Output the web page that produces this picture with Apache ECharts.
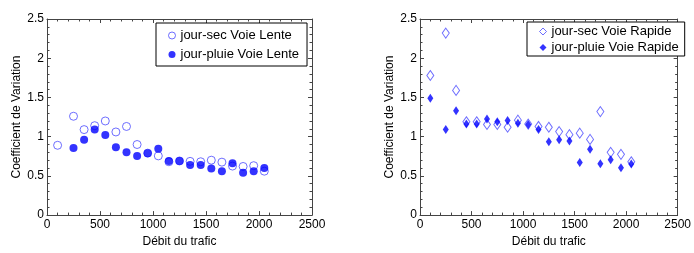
<!DOCTYPE html>
<html>
<head>
<meta charset="utf-8">
<script src="https://cdn.jsdelivr.net/npm/echarts@6/dist/echarts.min.js"></script>
<style>
  html, body { margin: 0; padding: 0; background: #fff; }
  #main { width: 694px; height: 253px; }
</style>
</head>
<body>
<div id="main"></div>
<script>
// débit du trafic (centres des classes)
var debitSec = [100, 250, 350, 450, 550, 650, 750, 850, 950, 1050, 1150, 1250, 1350, 1450, 1550, 1650, 1750, 1850, 1950, 2050];
var debitPluie = [250, 350, 450, 550, 650, 750, 850, 950, 1050, 1150, 1250, 1350, 1450, 1550, 1650, 1750, 1850, 1950, 2050];

// Voie Lente
var secLente = [0.89, 1.26, 1.09, 1.14, 1.20, 1.06, 1.13, 0.90, 0.79, 0.755, 0.68, 0.69, 0.685, 0.68, 0.70, 0.675, 0.625, 0.62, 0.63, 0.56];
var pluieLente = [0.855, 0.96, 1.09, 1.02, 0.865, 0.80, 0.755, 0.79, 0.845, 0.69, 0.69, 0.64, 0.64, 0.595, 0.56, 0.66, 0.54, 0.56, 0.60];

// Voie Rapide
var debitRapide = [100, 250, 350, 450, 550, 650, 750, 850, 950, 1050, 1150, 1250, 1350, 1450, 1550, 1650, 1750, 1850, 1950, 2050];
var secRapide = [1.78, 2.32, 1.59, 1.19, 1.19, 1.155, 1.155, 1.12, 1.21, 1.16, 1.13, 1.12, 1.065, 1.025, 1.045, 0.965, 1.32, 0.80, 0.775, 0.68];
var pluieRapide = [1.49, 1.09, 1.33, 1.16, 1.16, 1.225, 1.19, 1.205, 1.17, 1.155, 1.09, 0.935, 0.96, 0.945, 0.67, 0.84, 0.655, 0.705, 0.605, 0.65];

var FONT = 'Liberation Sans, Arial, sans-serif';
var axisCol = '#444';

function pairs(xs, ys) {
  return ys.map(function (v, i) { return [xs[i], v]; });
}

function xAx(grid, pos, labels) {
  return {
    type: 'value', gridIndex: grid, position: pos, min: 0, max: 2500, interval: 500,
    name: labels ? 'Débit du trafic' : '', nameLocation: 'middle', nameGap: 18,
    nameTextStyle: { fontFamily: FONT, fontSize: 12, color: '#000' },
    axisLine: { show: true, onZero: false, lineStyle: { color: axisCol, width: 1 } },
    axisTick: { show: true, inside: true, length: 4, lineStyle: { color: axisCol } },
    minorTick: { show: true, splitNumber: 5, length: 2.5, lineStyle: { color: axisCol } },
    axisLabel: { show: labels, fontFamily: FONT, fontSize: 12, color: '#000', margin: 4,
      formatter: function (v) { return String(v); } },
    splitLine: { show: false }
  };
}

function yAx(grid, pos, labels) {
  return {
    type: 'value', gridIndex: grid, position: pos, min: 0, max: 2.5, interval: 0.5,
    name: labels ? 'Coefficient de Variation' : '', nameLocation: 'middle', nameGap: 24,
    nameTextStyle: { fontFamily: FONT, fontSize: 12, color: '#000' },
    axisLine: { show: true, onZero: false, lineStyle: { color: axisCol, width: 1 } },
    axisTick: { show: true, inside: true, length: 4, lineStyle: { color: axisCol } },
    minorTick: { show: true, splitNumber: 5, length: 2.5, lineStyle: { color: axisCol } },
    axisLabel: { show: labels, fontFamily: FONT, fontSize: 12, color: '#000', margin: 3,
      formatter: function (v) { return String(v); } },
    splitLine: { show: false }
  };
}

var legendBase = {
  orient: 'vertical',
  backgroundColor: '#fff',
  borderColor: '#000',
  borderWidth: 1,
  borderRadius: 0,
  itemWidth: 7,
  itemHeight: 7,
  itemStyle: { borderWidth: 1 },
  textStyle: { fontFamily: FONT, fontSize: 13, color: '#000' }
};

var chart = echarts.init(document.getElementById('main'));
chart.setOption({
  animation: false,
  grid: [
    { left: 47, top: 19, width: 265, height: 206 },
    { left: 420, top: 19, width: 264, height: 206 }
  ],
  xAxis: [xAx(0, 'bottom', true), xAx(0, 'top', false), xAx(1, 'bottom', true), xAx(1, 'top', false)],
  yAxis: [yAx(0, 'left', true), yAx(0, 'right', false), yAx(1, 'left', true), yAx(1, 'right', false)],
  legend: [
    Object.assign({}, legendBase, {
      left: 156, top: 23, padding: [6, 8, 5, 12], itemGap: 6,
      data: ['jour-sec Voie Lente', 'jour-pluie Voie Lente']
    }),
    Object.assign({}, legendBase, {
      left: 527, top: 22, padding: [3, 6, 2, 12], itemGap: 3,
      data: ['jour-sec Voie Rapide', 'jour-pluie Voie Rapide']
    })
  ],
  series: [
    {
      name: 'jour-sec Voie Lente', type: 'scatter', xAxisIndex: 0, yAxisIndex: 0,
      symbol: 'circle', symbolSize: 8,
      itemStyle: { color: '#fff', borderColor: '#4a4aff', borderWidth: 1 },
      data: pairs(debitSec, secLente)
    },
    {
      name: 'jour-pluie Voie Lente', type: 'scatter', xAxisIndex: 0, yAxisIndex: 0,
      symbol: 'circle', symbolSize: 8,
      itemStyle: { color: '#0000ff' },
      data: pairs(debitPluie, pluieLente)
    },
    {
      name: 'jour-sec Voie Rapide', type: 'scatter', xAxisIndex: 2, yAxisIndex: 2,
      symbol: 'diamond', symbolSize: [7, 10],
      itemStyle: { color: '#fff', borderColor: '#4a4aff', borderWidth: 1 },
      data: pairs(debitRapide, secRapide)
    },
    {
      name: 'jour-pluie Voie Rapide', type: 'scatter', xAxisIndex: 2, yAxisIndex: 2,
      symbol: 'diamond', symbolSize: [6, 9],
      itemStyle: { color: '#0000ff' },
      data: pairs(debitRapide, pluieRapide)
    }
  ]
});
</script>
</body>
</html>
